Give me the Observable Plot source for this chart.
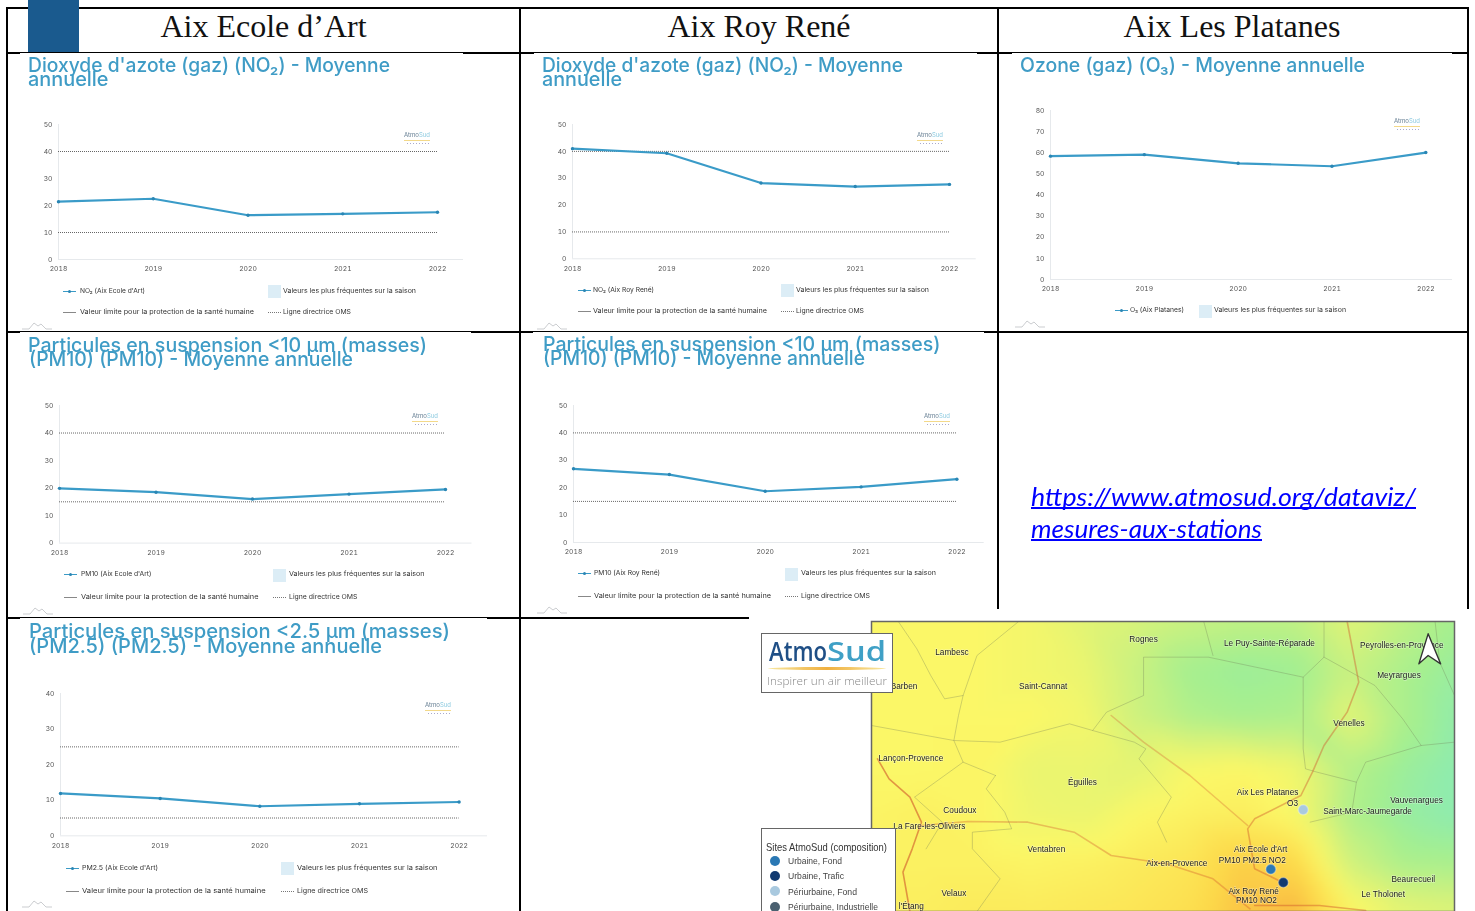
<!DOCTYPE html>
<html lang="fr">
<head>
<meta charset="utf-8">
<title>Aix - mesures aux stations</title>
<script src="https://cdn.jsdelivr.net/npm/d3@7"></script>
<script src="https://cdn.jsdelivr.net/npm/@observablehq/plot@0.6"></script>
<style>
html,body{margin:0;padding:0;background:#fff;overflow:hidden}
#page{position:relative;width:1475px;height:911px;overflow:hidden;background:#fff}
#page>*{position:absolute}
.t{white-space:nowrap;line-height:1;transform-origin:0 50%}
.soft{filter:blur(.4px)}
svg{overflow:visible}
</style>
</head>
<body>
<div id="page"></div>
<script>
// ---------- data ----------
const years = [2018, 2019, 2020, 2021, 2022];
const no2Ecole = [21.4, 22.5, 16.4, 16.9, 17.5];
const no2Roy = [41, 39.3, 28.2, 26.9, 27.7];
const o3Platanes = [58.4, 59.1, 55, 53.6, 60.1];
const pm10Ecole = [19.9, 18.5, 16, 17.8, 19.5];
const pm10Roy = [26.9, 24.8, 18.7, 20.3, 23.1];
const pm25Ecole = [11.9, 10.5, 8.3, 9, 9.5];
const stations = ["Aix Ecole d’Art", "Aix Roy René", "Aix Les Platanes"];
const linkLines = ["https://www.atmosud.org/dataviz/", "mesures-aux-stations"];
const legendSeason = "Valeurs les plus fréquentes sur la saison";
const legendLimit = "Valeur limite pour la protection de la santé humaine";
const legendOms = "Ligne directrice OMS";

// map: values and places in map units
const mapGridX = [262, 377, 491, 606, 720, 835, 950, 1064, 1179, 1293, 1408, 1522];
const mapGridY = [18, 163, 308, 453, 598, 743, 888];
const mapGrid = [
  [3, 3, 3, 2.8, 2.4, 2.1, 1.8, 1.6, 1.6, 2.3, 1.6, 1.0],
  [3, 3, 3, 2.8, 2.6, 1.8, 1, .8, .9, 1.8, 1.2, .7],
  [3, 3, 3, 3, 2.8, 1.9, 1.3, 1.1, 1.2, 2.4, 1.2, .5],
  [3, 3, 3.1, 2.6, 2.6, 2.4, 2.9, 3, 2.7, 1.4, .8, .4],
  [3.1, 3.2, 3.1, 2.7, 2.6, 3, 3.2, 3.3, 2.9, 1.3, .7, .4],
  [3.2, 3.2, 3.2, 3.1, 3.2, 3.4, 3.6, 4.2, 4.0, 2, 1.2, 1.1],
  [3.3, 3.3, 3.4, 3.4, 3.5, 3.6, 3.8, 4.4, 4.6, 3.2, 2.5, 2.3]
];
const mapPlaces = [
  ["Lambesc",436,110],["Rognes",850,70],["Le Puy-Sainte-Réparade",1122,83],["Peyrolles-en-Provence",1408,88],
  ["Meyrargues",1402,178],["La Barben",320,212],["Saint-Cannat",633,211],["Venelles",1294,322],
  ["Lançon-Provence",347,428],["Éguilles",718,499],["Aix Les Platanes",1118,529],["O3",1172,561],
  ["Vauvenargues",1440,553],["Saint-Marc-Jaumegarde",1334,585],["Coudoux",453,583],["La Fare-les-Oliviers",387,632],
  ["Ventabren",640,700],["Aix-en-Provence",922,743],["Aix Ecole d'Art",1103,701],["PM10 PM2.5 NO2",1085,732],
  ["Beaurecueil",1433,790],["Aix Roy René",1088,825],["PM10 NO2",1094,854],["Le Tholonet",1368,836],
  ["Velaux",440,832],["l'Étang",348,872]
];
const mapStations = [
  ["Aix Ecole d'Art",1125,761,"#2a78b4"],["Aix Roy René",1152,801,"#123a70"],["Aix Les Platanes",1195,583,"#a9c9df"]
];
const mapRoads = [
  [[275,430],[300,490],[345,545],[370,620],[350,700],[330,770],[345,888]],
  [[370,630],[470,618],[600,620],[700,650],[780,720],[900,745],[1000,790],[1080,880]],
  [[1290,18],[1315,200],[1290,290],[1240,390],[1215,470],[1190,540],[1090,610],[1075,640],[1090,760],[1150,800]],
  [[780,300],[850,380],[950,480],[1075,630]],
  [[1090,870],[1230,870],[1330,885]]
];
const mapRoadStrength = [.6, .35, .42, .3, .45];
const mapBorders = [
  [[320,18],[360,100],[390,180],[420,250],[460,240],[450,300],[440,375],[460,440],[355,545],[415,620],[380,700]],
  [[262,330],[440,375],[540,380],[690,325],[740,345],[830,380],[855,400],[840,430],[910,545],[880,620],[900,680]],
  [[460,240],[490,120],[580,18]],
  [[740,345],[770,290],[850,240],[850,125],[990,125],[1195,185],[1195,400],[1200,460],[1225,470],[1310,500],[1300,590],[1210,620]],
  [[980,18],[1000,120]],
  [[1195,185],[1240,125],[1240,18]],
  [[1240,125],[1350,210],[1410,310],[1450,390],[1330,440],[1310,500]],
  [[1450,390],[1522,380]],
  [[1480,18],[1490,140],[1522,240]],
  [[530,480],[460,440]],
  [[530,480],[510,520],[550,590],[565,640],[480,650],[480,700],[540,790],[490,888]]
];
const northArrow = [[1465,55],[1445,145],[1465,120],[1492,145],[1465,55]];
const mapLegendTitle = "Sites AtmoSud (composition)";
const mapLegendItems = [["Urbaine, Fond","#2a78b4"],["Urbaine, Trafic","#123a70"],["Périurbaine, Fond","#a9c9df"],["Périurbaine, Industrielle","#4a6070"]];

// ---------- layout ----------
const panels = [
  {values:no2Ecole,series:"NO₂ (Aix Ecole d'Art)",yMax:50,limits:[40,10],x0:58,x1:437,end:463,y0:259,yTop:124,
   title:[["Dioxyde d'azote (gaz) (NO₂) - Moyenne",28,390,72],["annuelle",28,108.5,86]],
   leg:{sw:63,tx:79.5,txw:65,box:268,bt:283,btw:133,y:291,y2:312,t2w:174,t3w:68},logo:[404,135],mt:[22,322]},
  {values:no2Roy,series:"NO₂ (Aix Roy René)",yMax:50,limits:[40,10],x0:572.3,x1:949.3,end:976,y0:258.3,yTop:124,
   title:[["Dioxyde d'azote (gaz) (NO₂) - Moyenne",542,903,72],["annuelle",542,622,86]],
   leg:{sw:578,tx:593,txw:61,box:781,bt:796,btw:133,y:290,y2:311.5,t2w:174,t3w:68},logo:[917,135],mt:[537,322]},
  {values:o3Platanes,series:"O₃ (Aix Platanes)",yMax:80,limits:[],x0:1050,x1:1425.3,end:1452,y0:279,yTop:110,
   title:[["Ozone (gaz) (O₃) - Moyenne annuelle",1020,1365,72]],
   leg:{sw:1115,tx:1130,txw:54,box:1199,bt:1214,btw:132,y:310.7},logo:[1394,121],mt:[1015,320]},
  {values:pm10Ecole,series:"PM10 (Aix Ecole d'Art)",yMax:50,limits:[40,15],x0:59,x1:445,end:471.5,y0:542.3,yTop:404.7,
   title:[["Particules en suspension <10 µm (masses)",28,427,352],["(PM10) (PM10) - Moyenne annuelle",29,353,366]],
   leg:{sw:64,tx:80.5,txw:70.5,box:273,bt:288.5,btw:135.5,y:574.7,y2:597,t2w:177.5,t3w:68.5},logo:[412,416],mt:[23,607]},
  {values:pm10Roy,series:"PM10 (Aix Roy René)",yMax:50,limits:[40,15],x0:573.3,x1:956.7,end:984,y0:541.7,yTop:404.7,
   title:[["Particules en suspension <10 µm (masses)",542.5,940,351],["(PM10) (PM10) - Moyenne annuelle",543,865,365]],
   leg:{sw:578,tx:594,txw:66,box:785,bt:801,btw:135,y:573.7,y2:596,t2w:177,t3w:69},logo:[924,416],mt:[537,606]},
  {values:pm25Ecole,series:"PM2.5 (Aix Ecole d'Art)",yMax:40,limits:[25,5],x0:60,x1:458.6,end:487,y0:835.3,yTop:693,
   title:[["Particules en suspension <2.5 µm (masses)",29,450,638],["(PM2.5) (PM2.5) - Moyenne annuelle",29,382,652.6]],
   leg:{sw:66,tx:82.4,txw:76,box:281,bt:297,btw:140.5,y:868,y2:891,t2w:183.6,t3w:71},logo:[425,705],mt:[22,900]}
];
const page = document.getElementById("page");

function box(x, y, w, h, bg, extra = "") {
  const d = document.createElement("div");
  d.style.cssText = `left:${x}px;top:${y}px;width:${w}px;height:${h}px;background:${bg};${extra}`;
  page.appendChild(d);
  return d;
}
// text placed by its left edge or centre and vertical centre; fit stretches it to a measured width
function text(str, x, yc, {size = 8, color = "#444", font = "Inter", weight = 400, fit = null, anchor = "start", soft = true, extra = ""} = {}) {
  const d = document.createElement("div");
  d.className = "t" + (soft ? " soft" : "");
  d.textContent = str;
  d.style.cssText = `left:${x}px;top:${yc - size / 2}px;font:${weight} ${size}px ${font};line-height:1;color:${color};${extra}`;
  page.appendChild(d);
  const w = d.getBoundingClientRect().width;
  if (anchor === "middle") d.style.left = (x - w / 2) + "px";
  if (fit) d.style.transform = `scaleX(${fit / w})`;
  return d;
}

// ---------- table frame ----------
const K = "#000";
box(6, 7, 1462, 2, K);
[[6,20,2],[20,463,1],[463,534,2],[534,977,1],[977,1012,2],[1012,1452,1],[1452,1468,2]].forEach(([a,b,h]) => box(a, 52, b - a, h, K));
[[6,20,2],[20,471,1],[471,533,2],[533,984,1],[984,1468,2]].forEach(([a,b,h]) => box(a, 331, b - a, h, K));
[[6,20,2],[20,487,1],[487,749,2]].forEach(([a,b,h]) => box(a, 617, b - a, h, K));
box(6, 7, 2, 904, K);
box(519, 7, 2, 904, K);
box(997, 7, 2, 602, K);
box(1466.5, 7, 2, 602, K);
box(28, 0, 51, 52, "#1a5a8e");
[263.5, 759, 1232].forEach((cx, i) => text(stations[i], cx, 26, {size: 32, color: "#111", font: "'Liberation Serif'", anchor: "middle", soft: false}));

// ---------- charts ----------
panels.forEach(p => {
  const data = years.map((year, i) => ({year, value: p.values[i]}));
  const yTicks = d3.range(0, p.yMax + 1, 10);
  const xEnd = 2022 + (p.end - p.x1) / (p.x1 - p.x0) * 4;
  const svg = Plot.plot({
    width: p.end - p.x0 + 40, height: p.y0 - p.yTop + 28,
    marginLeft: 30, marginRight: 10, marginTop: 8, marginBottom: 20,
    style: {background: "transparent", fontFamily: "Inter", fontSize: "6.8px", color: "#555"},
    x: {domain: [2018, xEnd], axis: null},
    y: {domain: [0, p.yMax], axis: null},
    marks: [
      Plot.ruleX([2018], {stroke: "#e6e9ec", strokeWidth: 1}),
      Plot.ruleY([0], {stroke: "#e6e9ec", strokeWidth: 1}),
      Plot.axisY({ticks: yTicks, tickSize: 0, tickPadding: 6, fill: "#555", label: null}),
      Plot.axisX({ticks: years, tickSize: 0, tickPadding: 7, tickFormat: "d", fill: "#555", label: null}),
      Plot.ruleY(p.limits, {x1: 2018, x2: 2022, stroke: "#666", strokeWidth: 1, strokeDasharray: "1 1"}),
      Plot.line(data, {x: "year", y: "value", stroke: "#3a9bc8", strokeWidth: 2.2}),
      Plot.dot(data, {x: "year", y: "value", r: 1.7, fill: "#2a86b4"})
    ]
  });
  svg.setAttribute("class", "soft");
  svg.style.left = (p.x0 - 30) + "px";
  svg.style.top = (p.yTop - 8) + "px";
  page.appendChild(svg);

  p.title.forEach(([str, a, b, base]) => text(str, a, base - 6.8, {size: 20, weight: 500, color: "#3f9cc6", fit: b - a}));

  const l = p.leg;
  box(l.sw, l.y - .5, 13, 1, "#3a9ac6", "").className = "soft";
  box(l.sw + 5, l.y - 1.5, 3, 3, "#2a86b4", "border-radius:50%").className = "soft";
  text(p.series, l.tx, l.y, {size: 6.8, color: "#333", fit: l.txw});
  box(l.box, l.y - 6, 12.5, 13, "#dcedf6");
  text(legendSeason, l.bt, l.y, {size: 6.8, color: "#333", fit: l.btw});
  if (l.y2) {
    box(l.sw, l.y2 - .5, 13, 1, "#888").className = "soft";
    text(legendLimit, l.tx, l.y2, {size: 6.8, color: "#333", fit: l.t2w});
    box(l.box, l.y2 - .5, 12.5, 1, "repeating-linear-gradient(90deg,#777 0 1px,transparent 1px 2px)").className = "soft";
    text(legendOms, l.bt, l.y2, {size: 6.8, color: "#333", fit: l.t3w});
  }
  // small AtmoSud mark, inside the chart corner
  const [lx, ly] = p.logo;
  text("Atmo", lx, ly, {size: 6, color: "#6a8296", fit: 15});
  text("Sud", lx + 15, ly, {size: 6, color: "#8ccae0", fit: 11});
  box(lx, ly + 5, 26, 1, "#f3d98a").className = "soft";
  box(lx + 3, ly + 8, 22, 1, "repeating-linear-gradient(90deg,#aac 0 1px,transparent 1px 3px)");

  // small ridge drawn at the foot of each card
  const [mx, my] = p.mt;
  const ridge = d3.create("svg").attr("width", 30).attr("height", 8).style("left", mx + "px").style("top", my + "px");
  ridge.append("path").attr("d", "M0 7H7L12 1L16 4L19 2L24 7H30").attr("fill", "none").attr("stroke", "#b5b8bb").attr("stroke-width", .7);
  page.appendChild(ridge.node());
});

// ---------- link cell ----------
linkLines.forEach((line, i) => text(line, 1031, 496 + i * 32, {size: 25, color: "#0000ff", font: "Lato", soft: false, fit: i ? 231 : 385, extra: "font-style:italic;text-decoration:underline;text-decoration-thickness:1.5px;text-decoration-skip-ink:none;"}));

// ---------- map ----------
const gridPoints = mapGrid.flatMap((row, j) => row.map((v, i) => ({x: mapGridX[i], y: mapGridY[j], v})));
const places = mapPlaces.map(([name, x, y]) => ({name, x, y}));
const dots = mapStations.map(([name, x, y, c]) => ({name, x, y, c}));
const lineRows = lines => lines.flatMap((pts, id) => pts.map(([x, y]) => ({id, x, y})));
const roadRows = mapRoads.flatMap((pts, id) => pts.map(([x, y]) => ({id, x, y, o: mapRoadStrength[id]})));
const mapSvg = Plot.plot({
  width: 583, height: 290,
  margin: 0,
  style: {background: "transparent", fontFamily: "'Liberation Sans'", fontSize: "9.5px"},
  x: {domain: [262, 1522], axis: null},
  y: {domain: [18, 888], range: [0, 290], axis: null},
  opacity: {range: [0, 1], domain: [0, 1]},
  color: {type: "linear", domain: [0, 1, 2, 3, 4, 5], range: ["#7fe9c4", "#a5ef90", "#d3f27c", "#fbf767", "#fcd94a", "#f8a23c"]},
  marks: [
    Plot.raster(gridPoints, {x: "x", y: "y", fill: "v", interpolate: "barycentric", pixelSize: 2, blur: 4}),
    Plot.line(lineRows(mapBorders), {x: "x", y: "y", z: "id", stroke: "#6f7a55", strokeOpacity: .45, strokeWidth: .7}),
    Plot.line(roadRows, {x: "x", y: "y", z: "id", stroke: "#d0562a", strokeOpacity: "o", strokeWidth: 1.6}),
    Plot.text(places, {x: "x", y: "y", text: "name", fill: "#222", stroke: "#fff", strokeOpacity: .35, strokeWidth: 1.5}),
    Plot.dot(dots, {x: "x", y: "y", r: 5, fill: "c", stroke: "#fff", strokeOpacity: .3}),
    Plot.line(northArrow, {x: "0", y: "1", fill: "#fff", stroke: "#333", strokeWidth: 1.4}),
    Plot.frame({stroke: "#666", strokeWidth: 1.5})
  ]
});
mapSvg.setAttribute("class", "soft");
mapSvg.style.left = "871px";
mapSvg.style.top = "621px";
page.appendChild(mapSvg);
// map labels are set in a condensed cut
mapSvg.querySelectorAll("text").forEach(t => {
  const len = t.getComputedTextLength();
  if (len > 0) {
    t.setAttribute("textLength", (len * .87).toFixed(1));
    t.setAttribute("lengthAdjust", "spacingAndGlyphs");
  }
});

// logo box
box(761, 633, 130, 58, "#fff", "border:1px solid #666;");
text("Atmo", 769, 650, {size: 27, weight: 600, color: "#1f4f86", font: "'Open Sans'", fit: 58});
text("Sud", 827, 650, {size: 27, weight: 600, color: "#3fa0c6", font: "'Open Sans'", fit: 59});
box(768, 667, 118, 3, "linear-gradient(90deg,#f7e7a0,#f0b040 50%,#f7e7a0)", "border-radius:50%;");
text("Inspirer un air meilleur", 767, 681, {size: 10.5, weight: 300, color: "#888", font: "'Open Sans'", fit: 120});

// legend box
box(761, 828, 133, 84, "#fff", "border:1px solid #666;");
text(mapLegendTitle, 766, 847, {size: 11, color: "#333", font: "'Liberation Sans'", fit: 121});
mapLegendItems.forEach(([label, c], i) => {
  const y = 861 + i * 15.2;
  box(770, y - 5, 10, 10, c, "border-radius:50%;").className = "soft";
  text(label, 788, y, {size: 9.5, color: "#444", font: "'Liberation Sans'", fit: [54, 56, 69, 90][i]});
});
</script>
</body>
</html>
